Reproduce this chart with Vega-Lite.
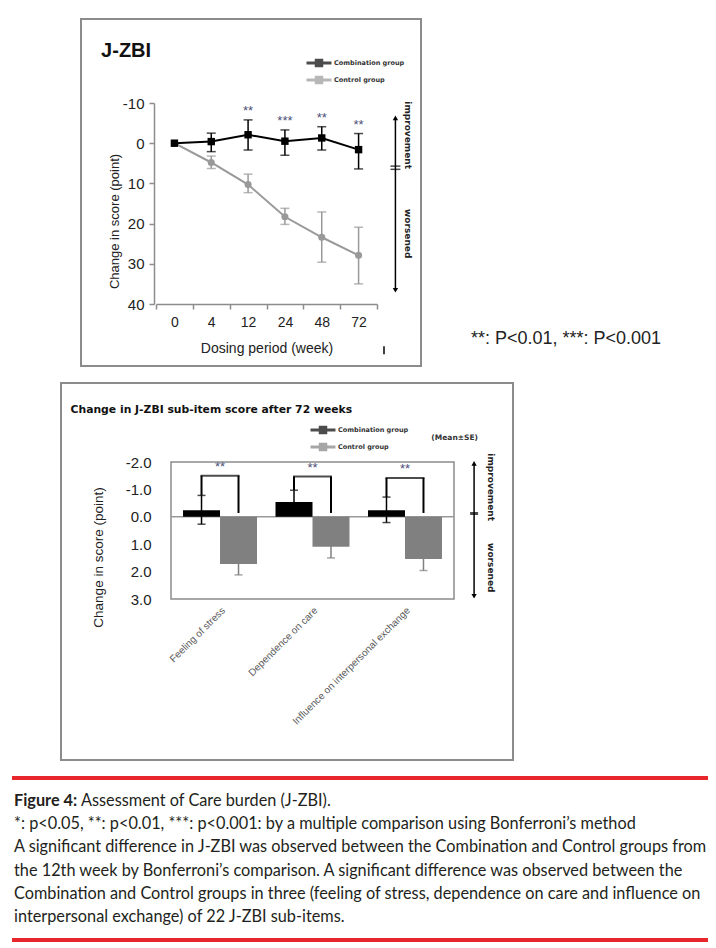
{
  "$schema": "https://vega.github.io/schema/vega-lite/v6.json",
  "padding": {"left": 0, "top": 18, "right": 0, "bottom": 0},
  "spacing": 15,
  "resolve": {"scale": {"color": "independent"}, "legend": {"color": "independent"}},
  "config": {"view": {"stroke": null}, "font": "Liberation Sans"},
  "vconcat": [
    {
      "spacing": 0,
      "resolve": {"scale": {"color": "independent"}, "legend": {"color": "independent"}},
      "hconcat": [
        {"width": 80, "height": 1, "data": {"values": []}, "mark": "point"},
        {
          "width": 340,
          "height": 347,
          "view": {"stroke": "#8c8c8c", "strokeWidth": 2},
          "resolve": {"scale": {"x": "independent"}},
          "layer": [
            {
              "data": {"values": [{}]},
              "layer": [
                {"mark": {"type": "rule", "color": "#000000", "strokeWidth": 1.5},
                 "encoding": {
                   "x": {"datum": 6, "type": "quantitative", "scale": {"domain": [-0.5, 5.5], "range": [75, 296], "nice": false, "zero": false}, "axis": null},
                   "y": {"datum": -6.3, "type": "quantitative"},
                   "y2": {"datum": 36.6}}},
                {"mark": {"type": "point", "shape": "triangle-up", "filled": true, "color": "#000000", "size": 28, "opacity": 1},
                 "encoding": {"x": {"datum": 6, "type": "quantitative", "axis": null}, "y": {"datum": -6.3, "type": "quantitative"}}},
                {"mark": {"type": "point", "shape": "triangle-down", "filled": true, "color": "#000000", "size": 28, "opacity": 1},
                 "encoding": {"x": {"datum": 6, "type": "quantitative", "axis": null}, "y": {"datum": 36.6, "type": "quantitative"}}},
                {"mark": {"type": "tick", "orient": "horizontal", "color": "#000000", "size": 10, "thickness": 1.5},
                 "encoding": {"x": {"datum": 6, "type": "quantitative", "axis": null}, "y": {"datum": 5.7, "type": "quantitative"}}},
                {"mark": {"type": "tick", "orient": "horizontal", "color": "#000000", "size": 10, "thickness": 1.5},
                 "encoding": {"x": {"datum": 6, "type": "quantitative", "axis": null}, "y": {"datum": 6.5, "type": "quantitative"}}},
                {"mark": {"type": "rule", "color": "#000000", "strokeWidth": 1.5},
                 "encoding": {"x": {"datum": 5.69, "type": "quantitative", "axis": null}, "y": {"datum": 50.5, "type": "quantitative"}, "y2": {"datum": 52.5}}},
                {"mark": {"type": "text", "text": "improvement", "angle": 90, "font": "DejaVu Sans", "fontSize": 9, "fontWeight": "bold", "color": "#222222", "align": "center", "baseline": "middle"},
                 "encoding": {"x": {"datum": 6.34, "type": "quantitative", "axis": null}, "y": {"datum": -2, "type": "quantitative"}}},
                {"mark": {"type": "text", "text": "worsened", "angle": 90, "font": "DejaVu Sans", "fontSize": 9, "fontWeight": "bold", "color": "#222222", "align": "center", "baseline": "middle"},
                 "encoding": {"x": {"datum": 6.34, "type": "quantitative", "axis": null}, "y": {"datum": 22.5, "type": "quantitative"}}},
                {"mark": {"type": "text", "text": "J-ZBI", "fontSize": 20, "fontWeight": "bold", "color": "#111111", "align": "left", "baseline": "middle"},
                 "encoding": {"x": {"datum": -1.99, "type": "quantitative", "axis": null}, "y": {"datum": -22.9, "type": "quantitative"}}},
                {"mark": {"type": "text", "text": "**: P<0.01, ***: P<0.001", "fontSize": 18, "color": "#222222", "align": "left", "baseline": "middle"},
                 "encoding": {"x": {"datum": 8.05, "type": "quantitative", "axis": null}, "y": {"datum": 48.6, "type": "quantitative"}}}
              ]
            },
            {
              "data": {"values": [
                {"group": "Control group", "week": 0, "mean": 0},
                {"group": "Control group", "week": 4, "mean": 4.8, "lo": 3.2, "hi": 6.3},
                {"group": "Control group", "week": 12, "mean": 10.3, "lo": 7.7, "hi": 12.3},
                {"group": "Control group", "week": 24, "mean": 18.3, "lo": 16.2, "hi": 20.2},
                {"group": "Control group", "week": 48, "mean": 23.4, "lo": 17.1, "hi": 29.6},
                {"group": "Control group", "week": 72, "mean": 27.9, "lo": 20.9, "hi": 35.0},
                {"group": "Combination group", "week": 0, "mean": 0},
                {"group": "Combination group", "week": 4, "mean": -0.4, "lo": -2.5, "hi": 2.1},
                {"group": "Combination group", "week": 12, "mean": -2.1, "lo": -5.8, "hi": 1.7, "sig": "**"},
                {"group": "Combination group", "week": 24, "mean": -0.5, "lo": -3.3, "hi": 3.0, "sig": "***"},
                {"group": "Combination group", "week": 48, "mean": -1.3, "lo": -4.1, "hi": 1.7, "sig": "**"},
                {"group": "Combination group", "week": 72, "mean": 1.6, "lo": -2.4, "hi": 6.4, "sig": "**"}
              ]},
              "layer": [
                {"mark": {"type": "rule", "strokeWidth": 1.5},
                 "encoding": {
                   "x": {"field": "week", "type": "ordinal",
                         "scale": {"domain": [0, 4, 12, 24, 48, 72], "range": [75, 296], "paddingInner": 0, "paddingOuter": 0},
                         "axis": {"title": "Dosing period (week)", "offset": -62, "tickBand": "extent", "labelAngle": 0,
                                  "domainColor": "#8c8c8c", "domainWidth": 1.5, "tickColor": "#8c8c8c", "tickWidth": 1.5, "tickSize": 5,
                                  "labelFontSize": 14, "labelColor": "#222222", "labelPadding": 6,
                                  "titleFontSize": 14, "titleFontWeight": "normal", "titleColor": "#222222", "titlePadding": 12}},
                   "y": {"field": "lo", "type": "quantitative",
                         "scale": {"domain": [-10, 40], "range": [84, 285], "nice": false, "zero": false},
                         "axis": {"title": "Change in score (point)", "offset": -73, "values": [-10, 0, 10, 20, 30, 40],
                                  "labelExpr": "replace(datum.label, '\u2212', '-')", "grid": false,
                                  "domainColor": "#8c8c8c", "domainWidth": 1.5, "tickColor": "#8c8c8c", "tickWidth": 1.5, "tickSize": 5,
                                  "labelFontSize": 15, "labelColor": "#222222", "labelPadding": 5,
                                  "titleFontSize": 13, "titleFontWeight": "normal", "titleColor": "#222222", "titlePadding": 1, "titleY": 202}},
                   "y2": {"field": "hi"},
                   "color": {"field": "group", "type": "nominal",
                             "scale": {"domain": ["Combination group", "Control group"], "range": ["#000000", "#999999"]},
                             "legend": {"orient": "none", "legendX": 224, "legendY": 36.5, "title": null,
                                        "symbolType": "M-1,0H1M-0.22,-0.22H0.22V0.22H-0.22Z", "symbolSize": 625, "symbolStrokeWidth": 3,
                                        "clipHeight": 15, "rowPadding": 2,
                                        "labelFont": "DejaVu Sans", "labelFontSize": 6.5, "labelFontWeight": "bold", "labelColor": "#333333", "labelOffset": 1}}}},
                {"mark": {"type": "tick", "size": 9, "thickness": 1.5},
                 "encoding": {"x": {"field": "week", "type": "ordinal"}, "y": {"field": "lo", "type": "quantitative"},
                              "color": {"field": "group", "type": "nominal"}}},
                {"mark": {"type": "tick", "size": 9, "thickness": 1.5},
                 "encoding": {"x": {"field": "week", "type": "ordinal"}, "y": {"field": "hi", "type": "quantitative"},
                              "color": {"field": "group", "type": "nominal"}}},
                {"mark": {"type": "line", "strokeWidth": 2},
                 "encoding": {"x": {"field": "week", "type": "ordinal"}, "y": {"field": "mean", "type": "quantitative"},
                              "color": {"field": "group", "type": "nominal"}}},
                {"transform": [{"filter": "datum.group == 'Control group'"}],
                 "mark": {"type": "point", "shape": "circle", "filled": true, "size": 50, "opacity": 1},
                 "encoding": {"x": {"field": "week", "type": "ordinal"}, "y": {"field": "mean", "type": "quantitative"},
                              "color": {"field": "group", "type": "nominal"}}},
                {"transform": [{"filter": "datum.group == 'Combination group'"}],
                 "mark": {"type": "point", "shape": "square", "filled": true, "size": 55, "opacity": 1},
                 "encoding": {"x": {"field": "week", "type": "ordinal"}, "y": {"field": "mean", "type": "quantitative"},
                              "color": {"field": "group", "type": "nominal"}}},
                {"transform": [{"filter": "datum.sig != null"}],
                 "mark": {"type": "text", "dy": -9, "fontSize": 13, "color": "#4d4f78", "baseline": "middle"},
                 "encoding": {"x": {"field": "week", "type": "ordinal"}, "y": {"field": "lo", "type": "quantitative"},
                              "text": {"field": "sig"}}}
              ]
            }
          ]
        }
      ]
    },
    {
      "spacing": 0,
      "resolve": {"scale": {"color": "independent"}, "legend": {"color": "independent"}},
      "hconcat": [
        {"width": 60, "height": 1, "data": {"values": []}, "mark": "point"},
        {
          "width": 452,
          "height": 377,
          "view": {"stroke": "#8c8c8c", "strokeWidth": 2},
          "resolve": {"scale": {"x": "independent"}},
          "layer": [
            {
              "data": {"values": [{}]},
              "layer": [
                {"mark": {"type": "rect", "fillOpacity": 0, "stroke": "#8c8c8c", "strokeWidth": 1.5},
                 "encoding": {
                   "x": {"datum": 0, "type": "quantitative", "scale": {"domain": [0, 1], "range": [110, 393], "nice": false, "zero": false}, "axis": null},
                   "x2": {"datum": 1},
                   "y": {"datum": -2, "type": "quantitative"},
                   "y2": {"datum": 3}}},
                {"mark": {"type": "rule", "color": "#999999", "strokeWidth": 1.5},
                 "encoding": {"x": {"datum": 0, "type": "quantitative", "axis": null}, "x2": {"datum": 1},
                              "y": {"datum": 0, "type": "quantitative"}}},
                {"mark": {"type": "rule", "color": "#000000", "strokeWidth": 1.5},
                 "encoding": {"x": {"datum": 1.071, "type": "quantitative", "axis": null},
                              "y": {"datum": -1.95, "type": "quantitative"}, "y2": {"datum": 2.9}}},
                {"mark": {"type": "point", "shape": "triangle-up", "filled": true, "color": "#000000", "size": 28, "opacity": 1},
                 "encoding": {"x": {"datum": 1.071, "type": "quantitative", "axis": null}, "y": {"datum": -1.95, "type": "quantitative"}}},
                {"mark": {"type": "point", "shape": "triangle-down", "filled": true, "color": "#000000", "size": 28, "opacity": 1},
                 "encoding": {"x": {"datum": 1.071, "type": "quantitative", "axis": null}, "y": {"datum": 2.9, "type": "quantitative"}}},
                {"mark": {"type": "tick", "orient": "horizontal", "color": "#000000", "size": 8, "thickness": 3},
                 "encoding": {"x": {"datum": 1.071, "type": "quantitative", "axis": null}, "y": {"datum": -0.12, "type": "quantitative"}}},
                {"mark": {"type": "text", "text": "improvement", "angle": 90, "font": "DejaVu Sans", "fontSize": 9, "fontWeight": "bold", "color": "#222222", "align": "center", "baseline": "middle"},
                 "encoding": {"x": {"datum": 1.13, "type": "quantitative", "axis": null}, "y": {"datum": -1.08, "type": "quantitative"}}},
                {"mark": {"type": "text", "text": "worsened", "angle": 90, "font": "DejaVu Sans", "fontSize": 9, "fontWeight": "bold", "color": "#222222", "align": "center", "baseline": "middle"},
                 "encoding": {"x": {"datum": 1.13, "type": "quantitative", "axis": null}, "y": {"datum": 1.86, "type": "quantitative"}}},
                {"mark": {"type": "text", "text": "Change in J-ZBI  sub-item score after 72 weeks", "font": "DejaVu Sans", "fontSize": 10.8, "fontWeight": "bold", "color": "#111111", "align": "left", "baseline": "middle"},
                 "encoding": {"x": {"datum": -0.355, "type": "quantitative", "axis": null}, "y": {"datum": -3.88, "type": "quantitative"}}},
                {"mark": {"type": "text", "text": "(Mean\u00b1SE)", "font": "DejaVu Sans", "fontSize": 7.5, "fontWeight": "bold", "color": "#333333", "align": "left", "baseline": "middle"},
                 "encoding": {"x": {"datum": 0.92, "type": "quantitative", "axis": null}, "y": {"datum": -2.86, "type": "quantitative"}}}
              ]
            },
            {
              "layer": [
                {
                  "data": {"values": [
                    {"item": "Feeling of stress", "group": "Combination group", "mean": -0.24, "lo": -0.78, "hi": 0.27},
                    {"item": "Feeling of stress", "group": "Control group", "mean": 1.72, "lo": 1.32, "hi": 2.12},
                    {"item": "Dependence on care", "group": "Combination group", "mean": -0.54, "lo": -0.97, "hi": -0.11},
                    {"item": "Dependence on care", "group": "Control group", "mean": 1.09, "lo": 0.68, "hi": 1.5},
                    {"item": "Influence on interpersonal exchange", "group": "Combination group", "mean": -0.24, "lo": -0.72, "hi": 0.21},
                    {"item": "Influence on interpersonal exchange", "group": "Control group", "mean": 1.54, "lo": 1.12, "hi": 1.96}
                  ]},
                  "layer": [
                    {"mark": {"type": "rule", "strokeWidth": 1.5},
                     "encoding": {
                       "x": {"field": "item", "type": "nominal", "sort": null,
                             "scale": {"domain": ["Feeling of stress", "Dependence on care", "Influence on interpersonal exchange"], "range": [110, 393], "paddingInner": 0.2, "paddingOuter": 0.13},
                             "axis": {"title": null, "offset": -161, "domain": false, "ticks": false, "labelAngle": -45,
                                      "labelFontSize": 10, "labelColor": "#5a5a5a", "labelPadding": 6, "labelLimit": 300}},
                       "xOffset": {"field": "group", "type": "nominal", "scale": {"domain": ["Combination group", "Control group"], "paddingInner": 0, "paddingOuter": 0}},
                       "y": {"field": "lo", "type": "quantitative",
                             "scale": {"domain": [-2, 3], "range": [79, 216], "nice": false, "zero": false},
                             "axis": {"title": "Change in score (point)", "offset": -110, "values": [-2, -1, 0, 1, 2, 3], "format": ".1f",
                                      "labelExpr": "replace(datum.label, '\u2212', '-')", "grid": false, "domain": false, "ticks": false,
                                      "labelFontSize": 15, "labelColor": "#222222", "labelPadding": 20,
                                      "titleFontSize": 13.5, "titleFontWeight": "normal", "titleColor": "#222222", "titlePadding": 20, "titleY": 174}},
                       "y2": {"field": "hi"},
                       "color": {"field": "group", "type": "nominal",
                                 "scale": {"domain": ["Combination group", "Control group"], "range": ["#000000", "#808080"]},
                                 "legend": {"orient": "none", "legendX": 248, "legendY": 39.5, "title": null,
                                            "symbolType": "M-1,0H1M-0.22,-0.22H0.22V0.22H-0.22Z", "symbolSize": 625, "symbolStrokeWidth": 3,
                                            "clipHeight": 15, "rowPadding": 2,
                                            "labelFont": "DejaVu Sans", "labelFontSize": 6.5, "labelFontWeight": "bold", "labelColor": "#333333", "labelOffset": 1}}}},
                    {"mark": {"type": "tick", "size": 8, "thickness": 1.5},
                     "encoding": {"x": {"field": "item", "type": "nominal", "sort": null},
                                  "xOffset": {"field": "group", "type": "nominal"},
                                  "y": {"field": "lo", "type": "quantitative"},
                                  "color": {"field": "group", "type": "nominal"}}},
                    {"mark": {"type": "tick", "size": 8, "thickness": 1.5},
                     "encoding": {"x": {"field": "item", "type": "nominal", "sort": null},
                                  "xOffset": {"field": "group", "type": "nominal"},
                                  "y": {"field": "hi", "type": "quantitative"},
                                  "color": {"field": "group", "type": "nominal"}}},
                    {"mark": {"type": "bar"},
                     "encoding": {"x": {"field": "item", "type": "nominal", "sort": null},
                                  "xOffset": {"field": "group", "type": "nominal"},
                                  "y": {"field": "mean", "type": "quantitative"},
                                  "y2": {"datum": 0},
                                  "color": {"field": "group", "type": "nominal"}}}
                  ]
                },
                {
                  "data": {"values": [
                    {"item": "Feeling of stress", "group": "Combination group", "from": -0.78, "top": -1.5, "sig": "**"},
                    {"item": "Feeling of stress", "group": "Control group", "from": -0.14, "top": -1.5},
                    {"item": "Dependence on care", "group": "Combination group", "from": -0.97, "top": -1.47, "sig": "**"},
                    {"item": "Dependence on care", "group": "Control group", "from": -0.14, "top": -1.47},
                    {"item": "Influence on interpersonal exchange", "group": "Combination group", "from": -0.72, "top": -1.42, "sig": "**"},
                    {"item": "Influence on interpersonal exchange", "group": "Control group", "from": -0.14, "top": -1.42}
                  ]},
                  "layer": [
                    {"mark": {"type": "rule", "color": "#000000", "strokeWidth": 2},
                     "encoding": {"x": {"field": "item", "type": "nominal", "sort": null},
                                  "xOffset": {"field": "group", "type": "nominal"},
                                  "y": {"field": "from", "type": "quantitative"},
                                  "y2": {"field": "top"}}},
                    {"transform": [{"filter": "datum.sig != null"}],
                     "mark": {"type": "tick", "color": "#000000", "size": 39, "thickness": 2},
                     "encoding": {"x": {"field": "item", "type": "nominal", "sort": null},
                                  "y": {"field": "top", "type": "quantitative"}}},
                    {"transform": [{"filter": "datum.sig != null"}],
                     "mark": {"type": "text", "dy": -9, "fontSize": 13, "color": "#4d4f78", "baseline": "middle"},
                     "encoding": {"x": {"field": "item", "type": "nominal", "sort": null},
                                  "y": {"field": "top", "type": "quantitative"},
                                  "text": {"field": "sig"}}}
                  ]
                }
              ]
            }
          ]
        }
      ]
    },
    {
      "spacing": 0,
      "hconcat": [
        {"width": 10, "height": 1, "data": {"values": []}, "mark": "point"},
        {
          "width": 696,
          "height": 162,
          "layer": [
            {"data": {"values": [{"line": "r1"}, {"line": "r2"}]},
             "mark": {"type": "rule", "color": "#e8262d", "strokeWidth": 4},
             "encoding": {
               "y": {"field": "line", "type": "ordinal", "scale": {"type": "point", "domain": ["r1", "L1", "L2", "L3", "L4", "L5", "L6", "r2"], "padding": 0}, "axis": null},
               "x": {"datum": 0, "type": "quantitative", "scale": {"domain": [0, 1], "nice": false, "zero": false}, "axis": null},
               "x2": {"datum": 1}}},
            {"data": {"values": [{"line": "L1", "text": "Figure 4:"}]},
             "mark": {"type": "text", "align": "left", "baseline": "middle", "fontSize": 16.3, "fontWeight": "bold", "font": "Lato", "color": "#231f20", "dx": 2},
             "encoding": {"y": {"field": "line", "type": "ordinal", "axis": null}, "x": {"datum": 0, "type": "quantitative", "axis": null}, "text": {"field": "text"}}},
            {"data": {"values": [{"line": "L1", "text": "Assessment of Care burden (J-ZBI)."}]},
             "mark": {"type": "text", "align": "left", "baseline": "middle", "fontSize": 16.3, "font": "Lato", "color": "#231f20", "dx": 69},
             "encoding": {"y": {"field": "line", "type": "ordinal", "axis": null}, "x": {"datum": 0, "type": "quantitative", "axis": null}, "text": {"field": "text"}}},
            {"data": {"values": [
               {"line": "L2", "text": "*: p<0.05, **: p<0.01, ***: p<0.001: by a multiple comparison using Bonferroni\u2019s method"},
               {"line": "L3", "text": "A significant difference in J-ZBI was observed between the Combination and Control groups from"},
               {"line": "L4", "text": "the 12th week by Bonferroni\u2019s comparison. A significant difference was observed between the"},
               {"line": "L5", "text": "Combination and Control groups in three (feeling of stress, dependence on care and influence on"},
               {"line": "L6", "text": "interpersonal exchange) of 22 J-ZBI sub-items."}
             ]},
             "mark": {"type": "text", "align": "left", "baseline": "middle", "fontSize": 16.3, "font": "Lato", "color": "#231f20", "dx": 2},
             "encoding": {"y": {"field": "line", "type": "ordinal", "axis": null}, "x": {"datum": 0, "type": "quantitative", "axis": null}, "text": {"field": "text"}}}
          ]
        }
      ]
    }
  ]
}
